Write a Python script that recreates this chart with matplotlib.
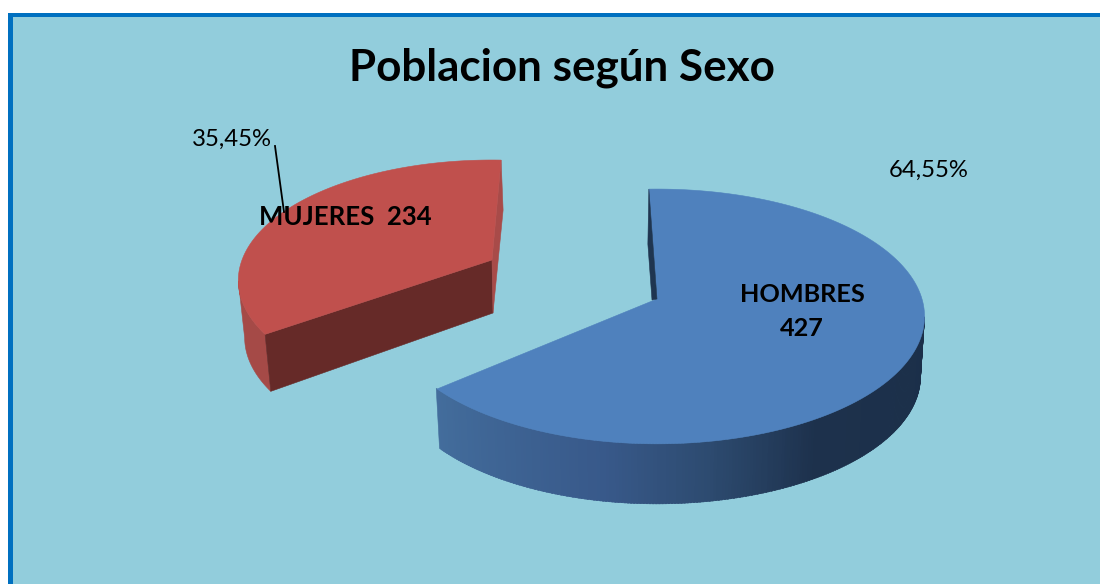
#! /usr/bin/python3
# -*- coding: utf-8 -*-
import numpy as np
import matplotlib
matplotlib.use("Agg")
import matplotlib.pyplot as plt
from matplotlib.colors import LinearSegmentedColormap
from matplotlib.patches import Polygon, Rectangle

# data
titulo = "Poblacion según Sexo"
sexos = ["HOMBRES", "MUJERES"]
valores = [427, 234]
porcentajes = ["64,55%", "35,45%"]

W, H = 1100, 584
BG = "#92CDDC"
BORDE = "#0070C0"

angulos = [360.0 * v / sum(valores) for v in valores]


def rim(t, cx, cy, rx, ry, k, depth=0, s=1.0):
    # t in degrees, clockwise from the back of the pie, k = perspective
    r = np.radians(t)
    X, Y = np.sin(r), -np.cos(r)
    d = 1 - k * Y
    x = cx + s * rx * X / d
    y = cy + ry * Y / d + depth
    return np.column_stack([x, y])


def poly(ax, pts, color, z):
    ax.add_patch(Polygon(pts, closed=True, fc=color, ec=color, lw=0.4, zorder=z))


fig = plt.figure(figsize=(W / 100, H / 100), dpi=100, facecolor="white")
ax = fig.add_axes([0, 0, 1, 1])
ax.set_xlim(0, W)
ax.set_ylim(H, 0)
ax.axis("off")

# frame
ax.add_patch(Rectangle((8, 13), W, H, fc=BORDE, ec="none", zorder=0))
ax.add_patch(Rectangle((13, 17), W, H, fc=BG, ec="none", zorder=0.5))

# blue slice
cx, cy, rx, ry, k = 657, 299, 265, 125, 0.137
ini = -2.0
fin = ini + angulos[0] - 1.5
ts = np.linspace(ini, fin, 300)
top = rim(ts, cx, cy, rx, ry, k)
# outer wall, shaded by position
shade = LinearSegmentedColormap.from_list("azul", [(0, "#436D9C"), (0.3, "#38598A"), (0.45, "#2D4B70"),
                                                   (0.62, "#1D314C"), (1, "#1B2F49")])
tw = np.linspace(98, fin, 220)
for a, b in zip(tw[:-1], tw[1:]):
    seg = np.vstack([rim(np.array([a, b + 0.3]), cx, cy, rx, ry, k),
                     rim(np.array([b + 0.3, a]), cx, cy, rx, ry, k, depth=60, s=0.985)])
    poly(ax, seg, shade((fin - a) / (fin - 98)), 2)
poly(ax, np.vstack([[cx, cy], top]), "#4F81BD", 3)
# inner wall sliver next to the first cut
inicio = rim(np.array([ini]), cx, cy, rx, ry, k)[0]
poly(ax, [inicio, (inicio[0] - 1, inicio[1] + 55), (cx - 5, cy + 1), (cx, cy)], "#1F3550", 4)

# red slice
cx2, cy2, rx2, ry2, k2 = 492, 260, 250, 117, 0.17
ini2 = 235.0
fin2 = ini2 + angulos[1]
ts2 = np.linspace(ini2, fin2, 200)
top2 = rim(ts2, cx2, cy2, rx2, ry2, k2)
apex2 = np.array([cx2, cy2])
# outer wall on the left
tw2 = np.linspace(ini2, 260, 40)
low2 = rim(tw2, cx2, cy2, rx2, ry2, k2, depth=57, s=0.975)
poly(ax, np.vstack([rim(tw2, cx2, cy2, rx2, ry2, k2), low2[::-1]]), "#A54A47", 2)
# cut faces
esquina = top2[0]
poly(ax, [apex2, apex2 + (1, 53), low2[0], esquina], "#662A28", 3)
derecha = top2[-1]
poly(ax, [derecha, derecha + (2, 50), apex2 + (1, 53), apex2], "#A84B49", 3)
poly(ax, np.vstack([apex2, top2]), "#C0504D", 4)

# texts
fuente = "Lato"
ax.text(562, 68, titulo, ha="center", va="center", fontsize=31.7, fontweight="bold", family=fuente, color="black", zorder=6)
ax.text(232, 139, porcentajes[1], ha="center", va="center", fontsize=17.2, family=fuente, color="black", zorder=6)
ax.text(929, 170, porcentajes[0], ha="center", va="center", fontsize=17.2, family=fuente, color="black", zorder=6)
ax.plot([275, 284], [146, 212], color="black", lw=1.3, zorder=5)
ax.text(345, 217, "{}  {}".format(sexos[1], valores[1]), ha="center", va="center", fontsize=18.5, fontweight="bold", family=fuente, color="black", zorder=6)
ax.text(802, 294, sexos[0], ha="center", va="center", fontsize=18.2, fontweight="bold", family=fuente, color="black", zorder=6)
ax.text(802, 329, str(valores[0]), ha="center", va="center", fontsize=18.2, fontweight="bold", family=fuente, color="black", zorder=6)

fig.savefig("out.png", dpi=100, facecolor="white")
